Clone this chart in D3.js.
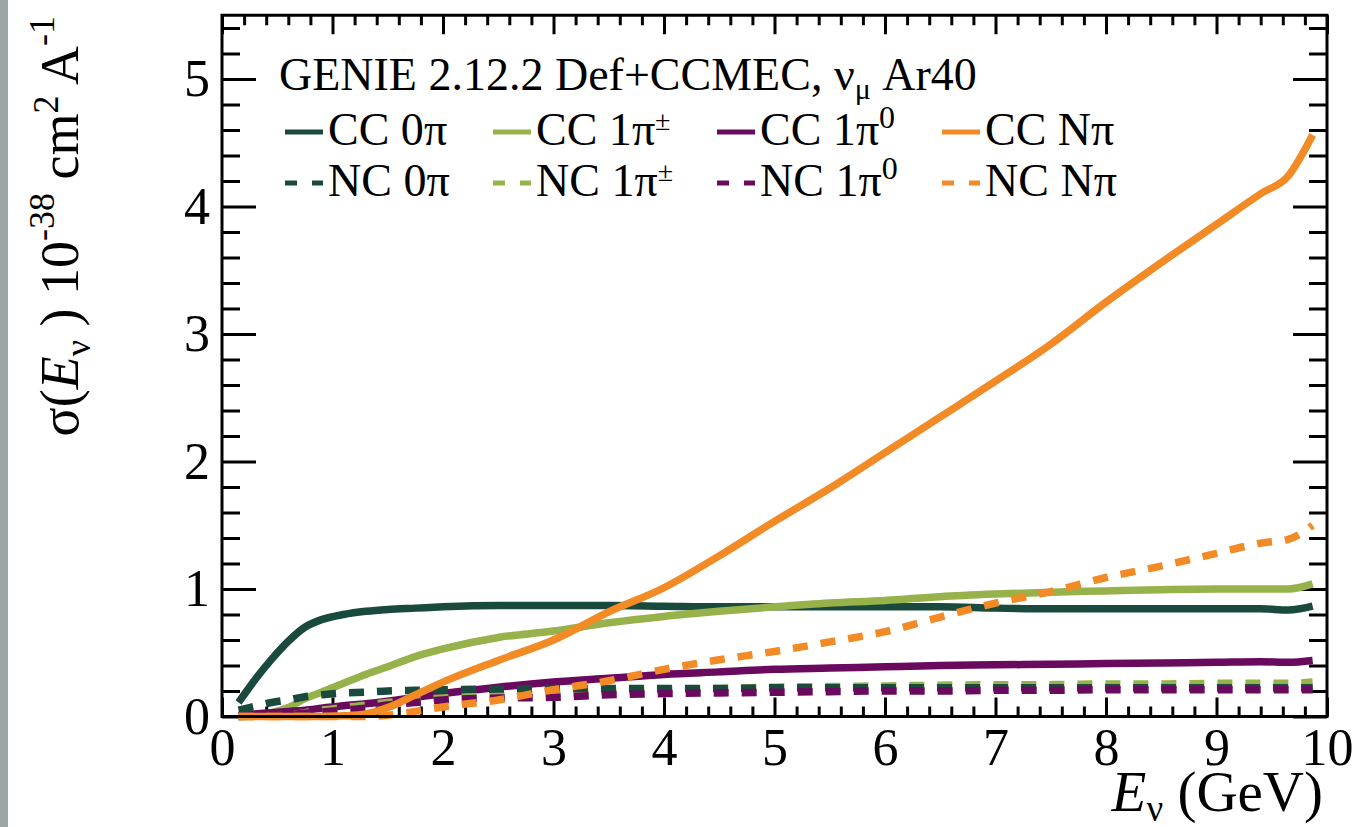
<!DOCTYPE html>
<html>
<head>
<meta charset="utf-8">
<script src="https://cdn.jsdelivr.net/npm/d3@7"></script>
<style>
  body { margin: 0; background: #fff; }
  text { font-family: "Liberation Serif", "Times New Roman", serif; fill: #000; }
</style>
</head>
<body>
<svg id="chart" width="1356" height="827"></svg>
<script>
// neutrino energy grid (GeV)
var energy = [0.15, 0.3, 0.45, 0.6, 0.75, 0.9, 1.1, 1.3, 1.5, 1.75, 2, 2.5, 3, 3.5, 4, 4.5, 5, 5.5, 6, 6.5, 7, 7.5, 8, 8.5, 9, 9.4, 9.65, 9.87];

// cross sections, 1e-38 cm^2 per nucleon
var cc0pi   = [0.11, 0.29, 0.45, 0.59, 0.70, 0.76, 0.80, 0.825, 0.84, 0.85, 0.86, 0.87, 0.87, 0.87, 0.865, 0.86, 0.86, 0.86, 0.86, 0.86, 0.85, 0.845, 0.845, 0.845, 0.845, 0.845, 0.835, 0.865];
var cc1pipm = [0.0, 0.01, 0.03, 0.07, 0.14, 0.19, 0.26, 0.33, 0.39, 0.47, 0.53, 0.62, 0.67, 0.735, 0.785, 0.825, 0.86, 0.89, 0.91, 0.94, 0.96, 0.975, 0.985, 0.995, 1.0, 1.0, 1.0, 1.04];
var cc1pi0  = [0.01, 0.02, 0.03, 0.04, 0.05, 0.065, 0.085, 0.10, 0.12, 0.15, 0.18, 0.23, 0.27, 0.30, 0.33, 0.35, 0.37, 0.38, 0.39, 0.40, 0.405, 0.41, 0.415, 0.42, 0.425, 0.43, 0.425, 0.44];
var ccNpi   = [0.0, 0.0, 0.0, 0.0, 0.0, 0.0, 0.005, 0.02, 0.07, 0.17, 0.27, 0.44, 0.60, 0.82, 1.01, 1.26, 1.53, 1.79, 2.07, 2.35, 2.63, 2.92, 3.25, 3.56, 3.86, 4.10, 4.24, 4.56];
var nc0pi   = [0.05, 0.08, 0.11, 0.13, 0.155, 0.17, 0.185, 0.19, 0.20, 0.205, 0.21, 0.215, 0.22, 0.22, 0.22, 0.22, 0.225, 0.225, 0.225, 0.225, 0.225, 0.225, 0.225, 0.225, 0.225, 0.225, 0.225, 0.225];
var nc1pipm = [0.0, 0.0, 0.005, 0.015, 0.03, 0.05, 0.07, 0.09, 0.11, 0.13, 0.145, 0.165, 0.18, 0.195, 0.21, 0.22, 0.23, 0.235, 0.24, 0.245, 0.25, 0.25, 0.255, 0.255, 0.26, 0.26, 0.26, 0.27];
var nc1pi0  = [0.0, 0.005, 0.01, 0.015, 0.025, 0.035, 0.05, 0.065, 0.09, 0.11, 0.13, 0.145, 0.15, 0.17, 0.18, 0.185, 0.19, 0.195, 0.20, 0.20, 0.205, 0.205, 0.21, 0.21, 0.21, 0.21, 0.21, 0.21];
var ncNpi   = [0.0, 0.0, 0.0, 0.0, 0.0, 0.0, 0.0, 0.0, 0.01, 0.04, 0.075, 0.13, 0.21, 0.28, 0.37, 0.445, 0.51, 0.585, 0.665, 0.78, 0.89, 0.98, 1.09, 1.18, 1.28, 1.36, 1.39, 1.50];

var xTicks = [0, 1, 2, 3, 4, 5, 6, 7, 8, 9, 10];
var yTicks = [0, 1, 2, 3, 4, 5];

// drawing order and styles
var series = [
  {v: cc0pi,   c: "#1a4a3d", d: null},
  {v: cc1pipm, c: "#97b14b", d: null},
  {v: cc1pi0,  c: "#6a0a5e", d: null},
  {v: nc1pipm, c: "#97b14b", d: "15,13"},
  {v: nc0pi,   c: "#1a4a3d", d: "15,13"},
  {v: nc1pi0,  c: "#6a0a5e", d: "15,13"},
  {v: ccNpi,   c: "#f28a26", d: null},
  {v: ncNpi,   c: "#f28a26", d: "15,13"}
];

var svg = d3.select("#chart");
var x = d3.scaleLinear().domain([0, 10]).range([222, 1327]);
var y = d3.scaleLinear().domain([0, 5.5]).range([716.5, 15.25]);

svg.append("rect").attr("x", 0).attr("y", 0).attr("width", 8).attr("height", 827).style("fill", "#9ba6a5");

function minor(step, max, majors) {
  return d3.range(0, max + 1e-6, step).map(function(v) { return +v.toFixed(2); })
    .filter(function(v) { return majors.indexOf(v) < 0; });
}

function styleAxis(g, fs) {
  g.select(".domain").remove();
  g.selectAll(".tick line").style("stroke", "#000").style("stroke-width", 3);
  g.selectAll("text").style("font-size", fs + "px").style("font-family", "'Liberation Serif', serif").style("fill", "#000");
}

// bottom / top
svg.append("g").attr("transform", "translate(0," + y(0) + ")")
  .call(d3.axisBottom(x).tickValues(xTicks).tickSize(-19).tickPadding(12).tickFormat(d3.format("d")))
  .call(styleAxis, 52);
svg.append("g").attr("transform", "translate(0," + y(0) + ")")
  .call(d3.axisBottom(x).tickValues(minor(0.2, 10, xTicks)).tickSize(-10).tickFormat(""))
  .call(styleAxis, 52);
svg.append("g").attr("transform", "translate(0," + y(5.5) + ")")
  .call(d3.axisTop(x).tickValues(xTicks).tickSize(-19).tickFormat(""))
  .call(styleAxis, 52);
svg.append("g").attr("transform", "translate(0," + y(5.5) + ")")
  .call(d3.axisTop(x).tickValues(minor(0.2, 10, xTicks)).tickSize(-10).tickFormat(""))
  .call(styleAxis, 52);

// left / right
svg.append("g").attr("transform", "translate(" + x(0) + ",0)")
  .call(d3.axisLeft(y).tickValues(yTicks).tickSize(-34).tickPadding(12).tickFormat(d3.format("d")))
  .call(styleAxis, 52);
svg.append("g").attr("transform", "translate(" + x(0) + ",0)")
  .call(d3.axisLeft(y).tickValues(minor(0.2, 5.4, yTicks)).tickSize(-18).tickFormat(""))
  .call(styleAxis, 52);
svg.append("g").attr("transform", "translate(" + x(10) + ",0)")
  .call(d3.axisRight(y).tickValues(yTicks).tickSize(-34).tickFormat(""))
  .call(styleAxis, 52);
svg.append("g").attr("transform", "translate(" + x(10) + ",0)")
  .call(d3.axisRight(y).tickValues(minor(0.2, 5.4, yTicks)).tickSize(-18).tickFormat(""))
  .call(styleAxis, 52);

// curves
var line = d3.line()
  .x(function(d) { return x(d[0]); })
  .y(function(d) { return y(d[1]); })
  .curve(d3.curveMonotoneX);

series.forEach(function(s) {
  svg.append("path")
    .datum(energy.map(function(e, i) { return [e, s.v[i]]; }))
    .attr("d", line)
    .style("fill", "none")
    .style("stroke", s.c)
    .style("stroke-width", 7.5)
    .style("stroke-dasharray", s.d);
});

// frame
svg.append("rect").attr("x", x(0)).attr("y", y(5.5)).attr("width", x(10) - x(0)).attr("height", y(0) - y(5.5))
  .style("fill", "none").style("stroke", "#000").style("stroke-width", 3);

// legend
var legendNames = [["CC 0", "π", ""], ["CC 1", "π", "±"], ["CC 1", "π", "0"], ["CC N", "π", ""],
                   ["NC 0", "π", ""], ["NC 1", "π", "±"], ["NC 1", "π", "0"], ["NC N", "π", ""]];
var legendColors = ["#1a4a3d", "#97b14b", "#6a0a5e", "#f28a26"];
var colX = [285, 493, 717, 942];
var rowY = [145, 196];

var title = svg.append("text").attr("x", 279).attr("y", 90).style("font-size", "46px");
title.append("tspan").text("GENIE 2.12.2 Def+CCMEC, ν");
title.append("tspan").attr("dy", 9).style("font-size", "30px").text("μ");
title.append("tspan").attr("dy", -9).text(" Ar40");

legendNames.forEach(function(n, i) {
  var col = i % 4, row = Math.floor(i / 4);
  var lx = colX[col], ly = rowY[row];
  svg.append("line").attr("x1", lx).attr("x2", lx + 38).attr("y1", ly - 13).attr("y2", ly - 13)
    .style("stroke", legendColors[col]).style("stroke-width", 5)
    .style("stroke-dasharray", row === 1 ? "12,15" : null);
  var t = svg.append("text").attr("x", lx + 43).attr("y", ly).style("font-size", "46px");
  t.append("tspan").text(n[0]);
  t.append("tspan").text(n[1]);
  if (n[2] === "±") {
    t.append("tspan").attr("dy", -15).style("font-size", "28px").text("±");
  } else if (n[2] === "0") {
    t.append("tspan").attr("dy", -17).style("font-size", "32px").text("0");
  }
});

// axis titles
var xt = svg.append("text").attr("x", 1323).attr("y", 811).attr("text-anchor", "end").style("font-size", "57px");
xt.append("tspan").style("font-style", "italic").text("E");
xt.append("tspan").attr("dy", 10).style("font-size", "37px").text("ν");
xt.append("tspan").attr("dy", -10).text(" (GeV)");

var yt = svg.append("text").attr("transform", "translate(78,16) rotate(-90)").attr("text-anchor", "end").style("font-size", "54px");
yt.append("tspan").text("σ(");
yt.append("tspan").style("font-style", "italic").text("E");
yt.append("tspan").attr("dy", 12).style("font-size", "36px").text("ν");
yt.append("tspan").attr("dy", -12).text(" ) 10");
yt.append("tspan").attr("dy", -24).style("font-size", "36px").text("-38");
yt.append("tspan").attr("dy", 24).text(" cm");
yt.append("tspan").attr("dy", -20).style("font-size", "36px").text("2");
yt.append("tspan").attr("dy", 20).text(" A");
yt.append("tspan").attr("dy", -24).style("font-size", "36px").text("-1");
</script>
</body>
</html>
